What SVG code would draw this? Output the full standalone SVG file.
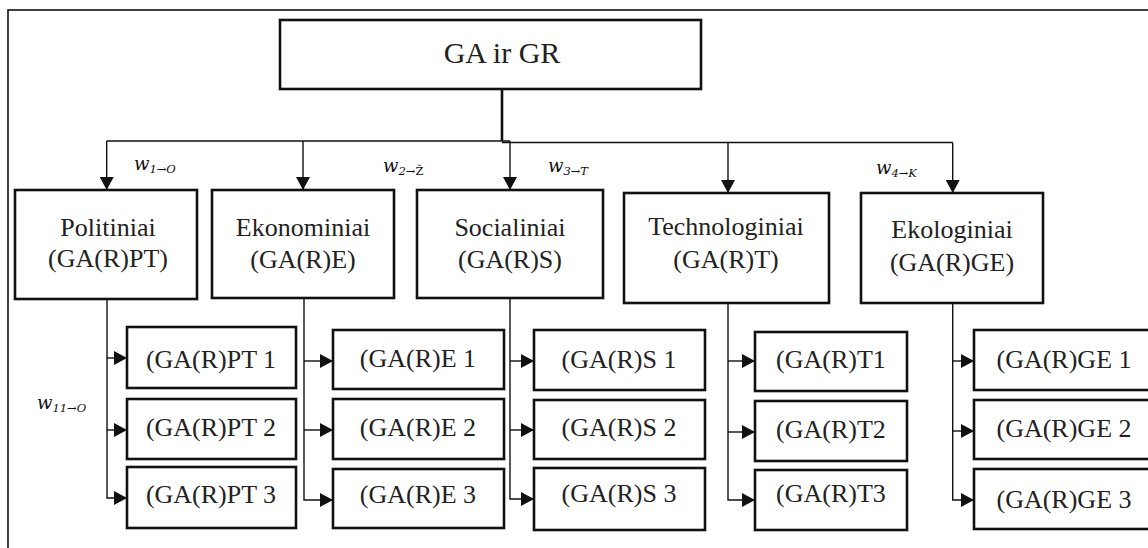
<svg xmlns="http://www.w3.org/2000/svg" width="1148" height="548" viewBox="0 0 1148 548">
<style>
.box{fill:#fff;stroke:#111;stroke-width:2.6}
.t{font-family:"Liberation Serif",serif;font-size:26px;fill:#222;text-anchor:middle}
.tt{font-family:"Liberation Serif",serif;font-size:30px;fill:#222;text-anchor:middle}
.c{fill:none;stroke:#111;stroke-width:1.4}
.w{font-family:"DejaVu Serif",serif;font-size:18px;font-style:italic;fill:#111}
.s{font-size:11.5px}
.u{font-style:normal}
</style>
<defs>
<marker id="ah" viewBox="0 0 13 14" refX="13" refY="7" markerWidth="13" markerHeight="14" markerUnits="userSpaceOnUse" orient="auto">
<path d="M0,0 L13,7 L0,14 Z" fill="#111"/>
</marker>
</defs>
<rect x="8" y="10" width="1160" height="560" fill="#fff" stroke="#111" stroke-width="1.6"/>

<g id="connectors">
<path d="M502,89 V141" fill="none" stroke="#111" stroke-width="2.6"/>
<path class="c" d="M106.7,141 H510"/>
<path class="c" d="M502,142.5 H952.7"/>
<path class="c" d="M106.7,141 V190" marker-end="url(#ah)"/>
<path class="c" d="M303,141 V190" marker-end="url(#ah)"/>
<path class="c" d="M510,141 V190" marker-end="url(#ah)"/>
<path class="c" d="M728,142.5 V193" marker-end="url(#ah)"/>
<path class="c" d="M952.7,142.5 V193" marker-end="url(#ah)"/>

<path class="c" d="M107,299 V498 H127" marker-end="url(#ah)"/>
<path class="c" d="M107,358 H127" marker-end="url(#ah)"/>
<path class="c" d="M107,430 H127" marker-end="url(#ah)"/>

<path class="c" d="M304,299 V500 H333" marker-end="url(#ah)"/>
<path class="c" d="M304,361 H333" marker-end="url(#ah)"/>
<path class="c" d="M304,430 H333" marker-end="url(#ah)"/>

<path class="c" d="M510,299 V499 H534" marker-end="url(#ah)"/>
<path class="c" d="M510,361 H534" marker-end="url(#ah)"/>
<path class="c" d="M510,430 H534" marker-end="url(#ah)"/>

<path class="c" d="M728,303 V500 H755" marker-end="url(#ah)"/>
<path class="c" d="M728,361 H755" marker-end="url(#ah)"/>
<path class="c" d="M728,432 H755" marker-end="url(#ah)"/>

<path class="c" d="M952.7,303 V500 H974" marker-end="url(#ah)"/>
<path class="c" d="M952.7,361 H974" marker-end="url(#ah)"/>
<path class="c" d="M952.7,431 H974" marker-end="url(#ah)"/>
</g>

<g id="labels">
<text class="w" x="134" y="170">w<tspan class="s" dy="3">1→O</tspan></text>
<text class="w" x="383" y="172">w<tspan class="s" dy="3">2→<tspan class="u">Ž</tspan></tspan></text>
<text class="w" x="548" y="172">w<tspan class="s" dy="3">3→T</tspan></text>
<text class="w" x="876" y="174">w<tspan class="s" dy="3">4→K</tspan></text>
<text class="w" x="37" y="409">w<tspan class="s" dy="3">11→O</tspan></text>
</g>

<g id="root"><rect class="box" x="280" y="20" width="421" height="69"/><text class="tt" x="502" y="63">GA ir GR</text></g>

<g id="politiniai"><rect class="box" x="15" y="190" width="182" height="109"/><text class="t" x="108" y="236">Politiniai</text><text class="t" x="108" y="267">(GA(R)PT)</text></g>
<g id="ekonominiai"><rect class="box" x="212" y="190" width="182" height="108"/><text class="t" x="303" y="236">Ekonominiai</text><text class="t" x="303" y="268">(GA(R)E)</text></g>
<g id="socialiniai"><rect class="box" x="417" y="190" width="186" height="108"/><text class="t" x="510" y="236">Socialiniai</text><text class="t" x="510" y="268">(GA(R)S)</text></g>
<g id="technologiniai"><rect class="box" x="624" y="193" width="205" height="110"/><text class="t" x="726" y="235">Technologiniai</text><text class="t" x="726" y="268">(GA(R)T)</text></g>
<g id="ekologiniai"><rect class="box" x="861" y="193" width="182" height="110"/><text class="t" x="952" y="238">Ekologiniai</text><text class="t" x="952" y="271">(GA(R)GE)</text></g>

<g id="pt1"><rect class="box" x="127" y="327" width="169" height="61"/><text class="t" x="211" y="368">(GA(R)PT 1</text></g>
<g id="pt2"><rect class="box" x="127" y="399" width="169" height="60"/><text class="t" x="211" y="436">(GA(R)PT 2</text></g>
<g id="pt3"><rect class="box" x="127" y="467" width="169" height="61"/><text class="t" x="211" y="503">(GA(R)PT 3</text></g>

<g id="e1"><rect class="box" x="333" y="330" width="171" height="59"/><text class="t" x="418" y="367">(GA(R)E 1</text></g>
<g id="e2"><rect class="box" x="333" y="399" width="171" height="60"/><text class="t" x="418" y="436">(GA(R)E 2</text></g>
<g id="e3"><rect class="box" x="333" y="469" width="171" height="59"/><text class="t" x="418" y="503">(GA(R)E 3</text></g>

<g id="s1"><rect class="box" x="534" y="330" width="171" height="60"/><text class="t" x="619" y="368">(GA(R)S 1</text></g>
<g id="s2"><rect class="box" x="534" y="400" width="171" height="59"/><text class="t" x="619" y="436">(GA(R)S 2</text></g>
<g id="s3"><rect class="box" x="534" y="468" width="171" height="62"/><text class="t" x="619" y="502">(GA(R)S 3</text></g>

<g id="t1"><rect class="box" x="755" y="332" width="152" height="59"/><text class="t" x="831" y="368">(GA(R)T1</text></g>
<g id="t2"><rect class="box" x="755" y="401" width="152" height="60"/><text class="t" x="831" y="438">(GA(R)T2</text></g>
<g id="t3"><rect class="box" x="755" y="470" width="152" height="60"/><text class="t" x="831" y="502">(GA(R)T3</text></g>

<g id="ge1"><rect class="box" x="974" y="330" width="200" height="60"/><text class="t" x="1064" y="368">(GA(R)GE 1</text></g>
<g id="ge2"><rect class="box" x="974" y="400" width="200" height="59"/><text class="t" x="1064" y="437">(GA(R)GE 2</text></g>
<g id="ge3"><rect class="box" x="974" y="469" width="200" height="60"/><text class="t" x="1064" y="508">(GA(R)GE 3</text></g>
</svg>
